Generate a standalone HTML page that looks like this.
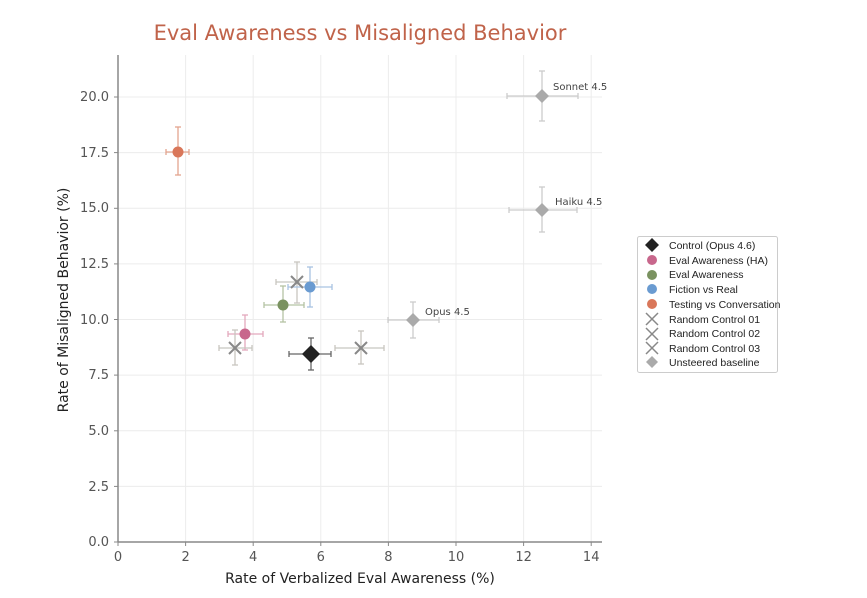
<!DOCTYPE html>
<html><head><meta charset="utf-8"><style>
body{margin:0;background:#fff;}
svg text{font-family:"DejaVu Sans","Liberation Sans",sans-serif;}
svg g.leg text{font-family:"Liberation Sans",sans-serif;}
</style></head><body>
<svg width="867" height="593" viewBox="0 0 867 593" xmlns="http://www.w3.org/2000/svg">
<rect width="867" height="593" fill="#fff"/>
<text x="360" y="40" text-anchor="middle" font-size="21" fill="#c0634a">Eval Awareness vs Misaligned Behavior</text>
<g stroke="#ececec" stroke-width="1">
<line x1="185.6" y1="55" x2="185.6" y2="542"/><line x1="253.2" y1="55" x2="253.2" y2="542"/><line x1="320.8" y1="55" x2="320.8" y2="542"/><line x1="388.4" y1="55" x2="388.4" y2="542"/><line x1="456" y1="55" x2="456" y2="542"/><line x1="523.6" y1="55" x2="523.6" y2="542"/><line x1="591.2" y1="55" x2="591.2" y2="542"/>
<line x1="118" y1="486.4" x2="602" y2="486.4"/><line x1="118" y1="430.8" x2="602" y2="430.8"/><line x1="118" y1="375.1" x2="602" y2="375.1"/><line x1="118" y1="319.5" x2="602" y2="319.5"/><line x1="118" y1="263.9" x2="602" y2="263.9"/><line x1="118" y1="208.3" x2="602" y2="208.3"/><line x1="118" y1="152.6" x2="602" y2="152.6"/><line x1="118" y1="97" x2="602" y2="97"/>
</g>
<g stroke="#888" stroke-width="1.5">
<line x1="118" y1="55" x2="118" y2="542"/><line x1="118" y1="542" x2="602" y2="542"/>
</g>
<g stroke="#888" stroke-width="1">
<line x1="118" y1="542" x2="118" y2="546"/><line x1="185.6" y1="542" x2="185.6" y2="546"/><line x1="253.2" y1="542" x2="253.2" y2="546"/><line x1="320.8" y1="542" x2="320.8" y2="546"/><line x1="388.4" y1="542" x2="388.4" y2="546"/><line x1="456" y1="542" x2="456" y2="546"/><line x1="523.6" y1="542" x2="523.6" y2="546"/><line x1="591.2" y1="542" x2="591.2" y2="546"/>
<line x1="114" y1="542" x2="118" y2="542"/><line x1="114" y1="486.4" x2="118" y2="486.4"/><line x1="114" y1="430.8" x2="118" y2="430.8"/><line x1="114" y1="375.1" x2="118" y2="375.1"/><line x1="114" y1="319.5" x2="118" y2="319.5"/><line x1="114" y1="263.9" x2="118" y2="263.9"/><line x1="114" y1="208.3" x2="118" y2="208.3"/><line x1="114" y1="152.6" x2="118" y2="152.6"/><line x1="114" y1="97" x2="118" y2="97"/>
</g>
<g font-size="13" fill="#555" text-anchor="middle">
<text x="118" y="561">0</text><text x="185.6" y="561">2</text><text x="253.2" y="561">4</text><text x="320.8" y="561">6</text><text x="388.4" y="561">8</text><text x="456" y="561">10</text><text x="523.6" y="561">12</text><text x="591.2" y="561">14</text>
</g>
<g font-size="13" fill="#555" text-anchor="end">
<text x="109" y="546">0.0</text><text x="109" y="491">2.5</text><text x="109" y="435">5.0</text><text x="109" y="379">7.5</text><text x="109" y="324">10.0</text><text x="109" y="268">12.5</text><text x="109" y="212">15.0</text><text x="109" y="157">17.5</text><text x="109" y="101">20.0</text>
</g>
<text x="360" y="583" text-anchor="middle" font-size="14" fill="#222">Rate of Verbalized Eval Awareness (%)</text>
<text transform="translate(68,300) rotate(-90)" text-anchor="middle" font-size="14" fill="#222">Rate of Misaligned Behavior (%)</text>

<g stroke-width="1.3">
<g stroke="#e3a58f"><line x1="166" y1="152" x2="189" y2="152"/><line x1="166" y1="149" x2="166" y2="155"/><line x1="189" y1="149" x2="189" y2="155"/><line x1="178" y1="127" x2="178" y2="175"/><line x1="175" y1="127" x2="181" y2="127"/><line x1="175" y1="175" x2="181" y2="175"/></g>
<g stroke="#ccc"><line x1="507" y1="96" x2="578" y2="96"/><line x1="507" y1="93" x2="507" y2="99"/><line x1="578" y1="93" x2="578" y2="99"/><line x1="542" y1="71" x2="542" y2="121"/><line x1="539" y1="71" x2="545" y2="71"/><line x1="539" y1="121" x2="545" y2="121"/></g>
<g stroke="#ccc"><line x1="509" y1="210" x2="577" y2="210"/><line x1="509" y1="207" x2="509" y2="213"/><line x1="577" y1="207" x2="577" y2="213"/><line x1="542" y1="187" x2="542" y2="232"/><line x1="539" y1="187" x2="545" y2="187"/><line x1="539" y1="232" x2="545" y2="232"/></g>
<g stroke="#ccc"><line x1="388" y1="320" x2="439" y2="320"/><line x1="388" y1="317" x2="388" y2="323"/><line x1="439" y1="317" x2="439" y2="323"/><line x1="413" y1="302" x2="413" y2="338"/><line x1="410" y1="302" x2="416" y2="302"/><line x1="410" y1="338" x2="416" y2="338"/></g>
<g stroke="#c8c6c0"><line x1="276" y1="282" x2="317" y2="282"/><line x1="276" y1="279" x2="276" y2="285"/><line x1="317" y1="279" x2="317" y2="285"/><line x1="297" y1="262" x2="297" y2="303"/><line x1="294" y1="262" x2="300" y2="262"/><line x1="294" y1="303" x2="300" y2="303"/></g>
<g stroke="#a9c3e2"><line x1="288" y1="287" x2="332" y2="287"/><line x1="288" y1="284" x2="288" y2="290"/><line x1="332" y1="284" x2="332" y2="290"/><line x1="310" y1="267" x2="310" y2="307"/><line x1="307" y1="267" x2="313" y2="267"/><line x1="307" y1="307" x2="313" y2="307"/></g>
<g stroke="#b5c3a3"><line x1="264" y1="305" x2="304" y2="305"/><line x1="264" y1="302" x2="264" y2="308"/><line x1="304" y1="302" x2="304" y2="308"/><line x1="283" y1="286" x2="283" y2="322"/><line x1="280" y1="286" x2="286" y2="286"/><line x1="280" y1="322" x2="286" y2="322"/></g>
<g stroke="#e3a9bd"><line x1="228" y1="334" x2="263" y2="334"/><line x1="228" y1="331" x2="228" y2="337"/><line x1="263" y1="331" x2="263" y2="337"/><line x1="245" y1="315" x2="245" y2="350"/><line x1="242" y1="315" x2="248" y2="315"/><line x1="242" y1="350" x2="248" y2="350"/></g>
<g stroke="#c8c6c0"><line x1="219" y1="348" x2="252" y2="348"/><line x1="219" y1="345" x2="219" y2="351"/><line x1="252" y1="345" x2="252" y2="351"/><line x1="235" y1="330" x2="235" y2="365"/><line x1="232" y1="330" x2="238" y2="330"/><line x1="232" y1="365" x2="238" y2="365"/></g>
<g stroke="#666"><line x1="289" y1="354" x2="331" y2="354"/><line x1="289" y1="351" x2="289" y2="357"/><line x1="331" y1="351" x2="331" y2="357"/><line x1="311" y1="338" x2="311" y2="370"/><line x1="308" y1="338" x2="314" y2="338"/><line x1="308" y1="370" x2="314" y2="370"/></g>
<g stroke="#c8c6c0"><line x1="335" y1="348" x2="384" y2="348"/><line x1="335" y1="345" x2="335" y2="351"/><line x1="384" y1="345" x2="384" y2="351"/><line x1="361" y1="331" x2="361" y2="364"/><line x1="358" y1="331" x2="364" y2="331"/><line x1="358" y1="364" x2="364" y2="364"/></g>
</g>
<circle cx="178" cy="152" r="5.5" fill="#d9775a"/>
<polygon points="542,89 549,96 542,103 535,96" fill="#aaa"/>
<polygon points="542,203 549,210 542,217 535,210" fill="#aaa"/>
<polygon points="413,313 420,320 413,327 406,320" fill="#aaa"/>
<circle cx="310" cy="287" r="5.5" fill="#6a9bd1"/>
<circle cx="283" cy="305" r="5.5" fill="#7a9260"/>
<circle cx="245" cy="334" r="5.5" fill="#c8678c"/>
<polygon points="311,345 320,354 311,363 302,354" fill="#222"/>
<g stroke="#888" stroke-width="2">
<line x1="291" y1="276" x2="303" y2="288"/><line x1="303" y1="276" x2="291" y2="288"/>
<line x1="229" y1="342" x2="241" y2="354"/><line x1="241" y1="342" x2="229" y2="354"/>
<line x1="355" y1="342" x2="367" y2="354"/><line x1="367" y1="342" x2="355" y2="354"/>
</g>
<g font-size="10" fill="#444">
<text x="553" y="90">Sonnet 4.5</text><text x="555" y="205">Haiku 4.5</text><text x="425" y="315">Opus 4.5</text>
</g>
<rect x="637.5" y="236.5" width="140" height="136" rx="2" fill="#fff" stroke="#ccc"/>
<g class="leg" font-size="10.5" fill="#222">
<polygon points="652,238 659,245 652,252 645,245" fill="#222"/><text x="669" y="249">Control (Opus 4.6)</text>
<circle cx="652" cy="260" r="5" fill="#c8678c"/><text x="669" y="264">Eval Awareness (HA)</text>
<circle cx="652" cy="275" r="5" fill="#7a9260"/><text x="669" y="278">Eval Awareness</text>
<circle cx="652" cy="289" r="5" fill="#6a9bd1"/><text x="669" y="293">Fiction vs Real</text>
<circle cx="652" cy="304" r="5" fill="#d9775a"/><text x="669" y="308">Testing vs Conversation</text>
<g stroke="#888" stroke-width="1.5"><line x1="646" y1="313" x2="658" y2="325"/><line x1="658" y1="313" x2="646" y2="325"/><line x1="646" y1="328" x2="658" y2="340"/><line x1="658" y1="328" x2="646" y2="340"/><line x1="646" y1="342" x2="658" y2="354"/><line x1="658" y1="342" x2="646" y2="354"/></g>
<text x="669" y="323">Random Control 01</text><text x="669" y="337">Random Control 02</text><text x="669" y="352">Random Control 03</text>
<polygon points="652,356 658,362 652,368 646,362" fill="#aaa"/><text x="669" y="366">Unsteered baseline</text>
</g>
</svg>
</body></html>
